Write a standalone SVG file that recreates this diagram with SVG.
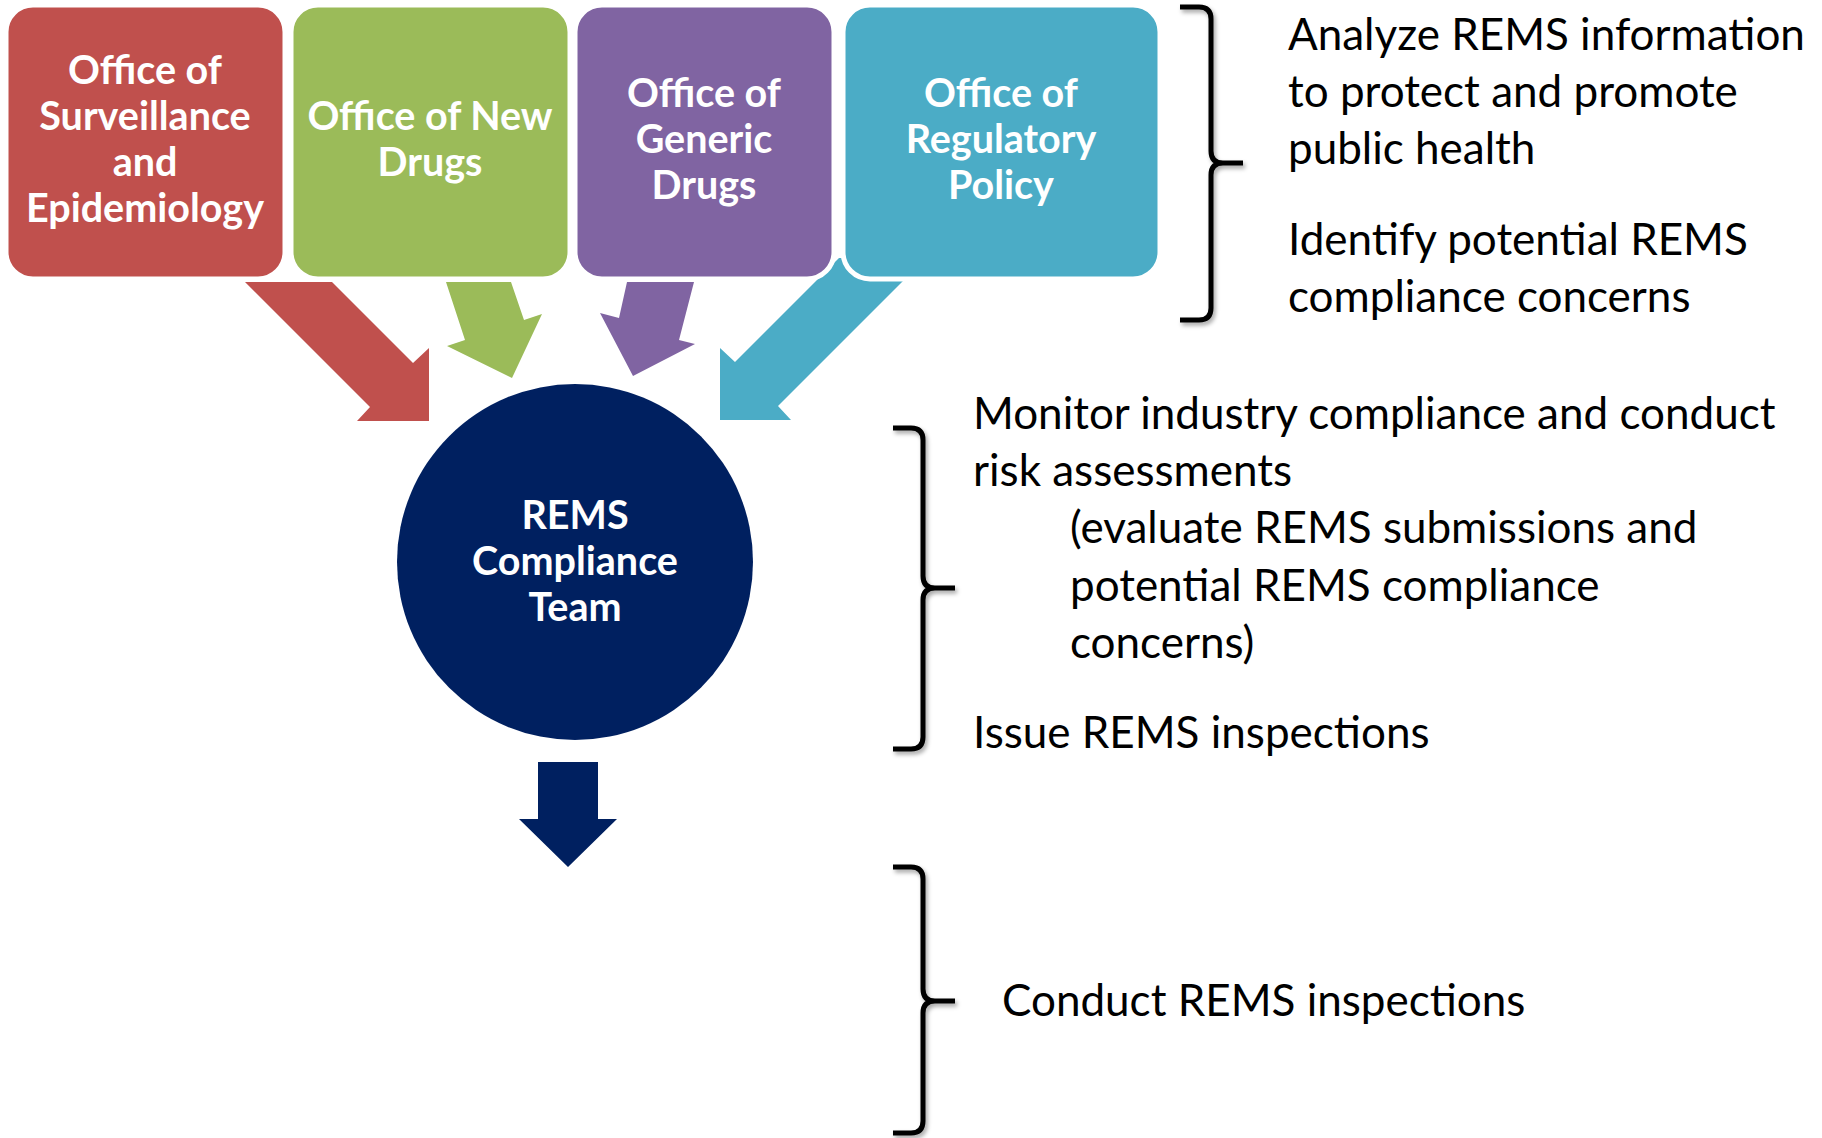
<svg xmlns="http://www.w3.org/2000/svg" width="1822" height="1138" viewBox="0 0 1822 1138">
  <style>
    .box { stroke: #FFFFFF; stroke-width: 5; }
    .lbl { font-family: Lato, "Open Sans", "Liberation Sans", sans-serif; font-weight: 700; font-size: 39.5px; fill: #FFFFFF; text-anchor: middle; }
    .note { font-family: Lato, "Open Sans", "Liberation Sans", sans-serif; font-weight: 400; font-size: 44px; fill: #000000; }
    .brace { fill: none; stroke: #000000; stroke-width: 5; filter: url(#shade); }
  </style>
  <defs>
    <filter id="shade" x="-50%" y="-10%" width="200%" height="120%">
      <feDropShadow dx="2" dy="3" stdDeviation="2" flood-color="#000000" flood-opacity="0.35"/>
    </filter>
  </defs>
  <rect width="1822" height="1138" fill="#FFFFFF"/>

  <!-- block arrows feeding the team, drawn beneath the office boxes -->
  <g id="connectors">
    <polygon fill="#C0504D" points="245,282 332,282 413,363 429,348 429,421 357,421 370,407"/>
    <polygon fill="#9BBB59" points="446,282 511,282 524,320 542,314 512,378 447,346 465,340"/>
    <polygon fill="#8064A2" points="627,282 694,282 679,340 695,344 633,376 600,313 619,318"/>
    <polygon fill="#4BACC6" points="839,258 926,258 778,406 791,420 720,420 720,348 735,362"/>
    <polygon fill="#002060" points="538,762 598,762 598,819 617,819 568,867 519,819 538,819"/>
  </g>

  <g id="office-surveillance">
    <rect class="box" x="6" y="5" width="279" height="274" rx="27" fill="#C0504D"/>
    <text class="lbl" x="145" y="84">Office of</text>
    <text class="lbl" x="145" y="130">Surveillance</text>
    <text class="lbl" x="145" y="176">and</text>
    <text class="lbl" x="145" y="222">Epidemiology</text>
  </g>
  <g id="office-new-drugs">
    <rect class="box" x="291" y="5" width="279" height="274" rx="27" fill="#9BBB59"/>
    <text class="lbl" x="430" y="130">Office of New</text>
    <text class="lbl" x="430" y="176">Drugs</text>
  </g>
  <g id="office-generic-drugs">
    <rect class="box" x="575" y="5" width="259" height="274" rx="27" fill="#8064A2"/>
    <text class="lbl" x="704" y="107">Office of</text>
    <text class="lbl" x="704" y="153">Generic</text>
    <text class="lbl" x="704" y="199">Drugs</text>
  </g>
  <g id="office-regulatory-policy">
    <rect class="box" x="843" y="5" width="317" height="274" rx="27" fill="#4BACC6"/>
    <text class="lbl" x="1001" y="107">Office of</text>
    <text class="lbl" x="1001" y="153">Regulatory</text>
    <text class="lbl" x="1001" y="199">Policy</text>
  </g>

  <g id="rems-compliance-team">
    <circle cx="575" cy="562" r="178" fill="#002060"/>
    <text class="lbl" x="575" y="529">REMS</text>
    <text class="lbl" x="575" y="575">Compliance</text>
    <text class="lbl" x="575" y="621">Team</text>
  </g>

  <!-- office-level responsibilities -->
  <g id="note-offices">
    <path class="brace" d="M1180,7 H1199 Q1211,7 1211,19 V151 Q1211,163 1223,163 H1243 M1223,163 Q1211,163 1211,175 V308 Q1211,320 1199,320 H1180"/>
    <text class="note" x="1288" y="50">Analyze REMS information</text>
    <text class="note" x="1288" y="107">to protect and promote</text>
    <text class="note" x="1288" y="164">public health</text>
    <text class="note" x="1288" y="255">Identify potential REMS</text>
    <text class="note" x="1288" y="312">compliance concerns</text>
  </g>

  <!-- team-level responsibilities -->
  <g id="note-team">
    <path class="brace" d="M893,428 H911 Q923,428 923,440 V576 Q923,588 935,588 H955 M935,588 Q923,588 923,600 V737 Q923,749 911,749 H893"/>
    <text class="note" x="973" y="429">Monitor industry compliance and conduct</text>
    <text class="note" x="973" y="486">risk assessments</text>
    <text class="note" x="1070" y="543">(evaluate REMS submissions and</text>
    <text class="note" x="1070" y="601">potential REMS compliance</text>
    <text class="note" x="1070" y="658">concerns)</text>
    <text class="note" x="973" y="748">Issue REMS inspections</text>
  </g>

  <!-- inspection step -->
  <g id="note-inspections">
    <path class="brace" d="M893,867 H911 Q923,867 923,879 V989 Q923,1001 935,1001 H955 M935,1001 Q923,1001 923,1013 V1121 Q923,1133 911,1133 H893"/>
    <text class="note" x="1002" y="1016">Conduct REMS inspections</text>
  </g>
</svg>
